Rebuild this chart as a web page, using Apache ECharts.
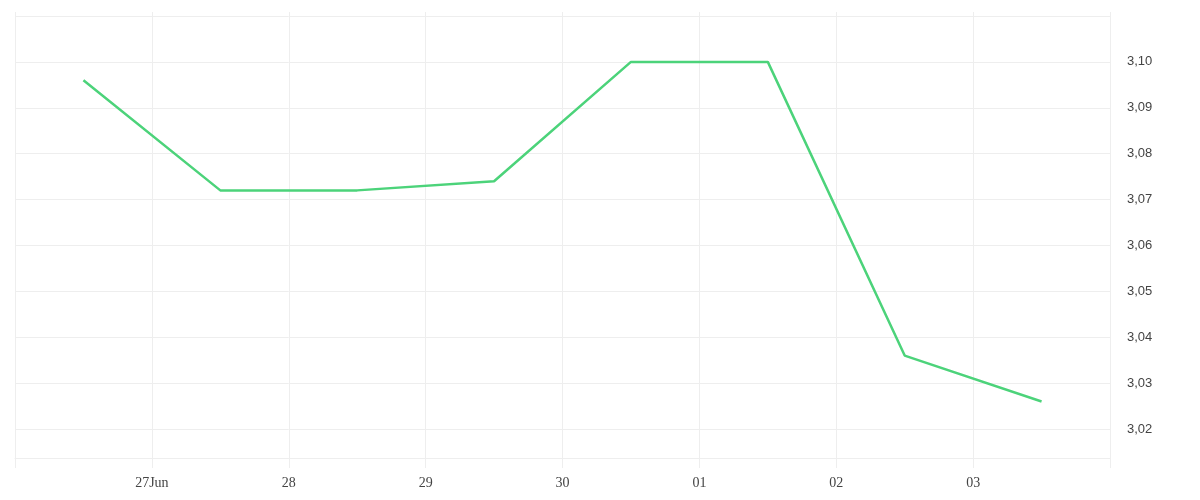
<!DOCTYPE html>
<html>
<head>
<meta charset="utf-8">
<script src="https://cdn.jsdelivr.net/npm/echarts@6/dist/echarts.min.js"></script>
<style>html,body{margin:0;padding:0;background:#fff;}#c{width:1200px;height:500px;}</style>
</head>
<body>
<div id="c"></div>
<script>
// Data: daily points at noon
const pointDates = ['2024-06-26T12:00','2024-06-27T12:00','2024-06-28T12:00','2024-06-29T12:00','2024-06-30T12:00','2024-07-01T12:00','2024-07-02T12:00','2024-07-03T12:00'];
const values = [3.096, 3.072, 3.072, 3.074, 3.100, 3.100, 3.036, 3.026];
// Tick labels by day
const tickDates = ['2024-06-27','2024-06-28','2024-06-29','2024-06-30','2024-07-01','2024-07-02','2024-07-03'];
const tickLabels = ['27Jun','28','29','30','01','02','03'];
const xStart = '2024-06-26T00:00';
const xEnd = '2024-07-04T00:00';
const yMin = 3.01368, yMax = 3.11;

function toTs(s){ const [d,t] = s.split('T'); const [Y,M,D] = d.split('-').map(Number); const [h,m] = (t||'00:00').split(':').map(Number); return new Date(Y,M-1,D,h,m).getTime(); }
function keyOf(ts){ const d = new Date(ts); const p = n => String(n).padStart(2,'0'); return d.getFullYear()+'-'+p(d.getMonth()+1)+'-'+p(d.getDate()); }
const labelMap = {}; tickDates.forEach((d,i)=>labelMap[d]=tickLabels[i]);

const chart = echarts.init(document.getElementById('c'));
const gridColor = '#eeeeee';
chart.setOption({
  animation:false,
  grid:{left:15,right:90,top:16,bottom:42},
  xAxis:[{
    type:'time', min:toTs(xStart), max:toTs(xEnd),
    minInterval:86400000, maxInterval:86400000,
    axisLine:{show:true,lineStyle:{color:gridColor,width:1}},
    axisTick:{show:true,length:10,lineStyle:{color:gridColor}},
    splitLine:{show:true,lineStyle:{color:gridColor}},
    axisLabel:{margin:18,color:'#444',fontFamily:'Liberation Serif',fontSize:14,
      formatter:function(v){ return labelMap[keyOf(v)] || ''; }}
  },{
    type:'time', position:'top', min:toTs(xStart), max:toTs(xEnd),
    minInterval:86400000, maxInterval:86400000,
    axisLine:{show:false}, axisTick:{show:true,length:4,lineStyle:{color:gridColor}},
    axisLabel:{show:false}, splitLine:{show:false}
  }],
  yAxis:{
    type:'value', position:'right', min:yMin, max:yMax, splitNumber:10,
    axisLine:{show:true,lineStyle:{color:gridColor}},
    axisTick:{show:false},
    splitLine:{show:true,lineStyle:{color:gridColor}},
    axisLabel:{margin:17,color:'#444',fontFamily:'Liberation Sans',fontSize:13,padding:[5,0,0,0],showMinLabel:false,showMaxLabel:false,
      formatter:function(v){ return v.toFixed(2).replace('.',','); }}
  },
  series:[{
    type:'line', xAxisIndex:0,
    data: pointDates.map((d,i)=>[toTs(d),values[i]]),
    showSymbol:false, symbol:'none',
    lineStyle:{color:'#4cd37a',width:2.5},
    itemStyle:{color:'#4cd37a'}
  }]
});
</script>
</body>
</html>
